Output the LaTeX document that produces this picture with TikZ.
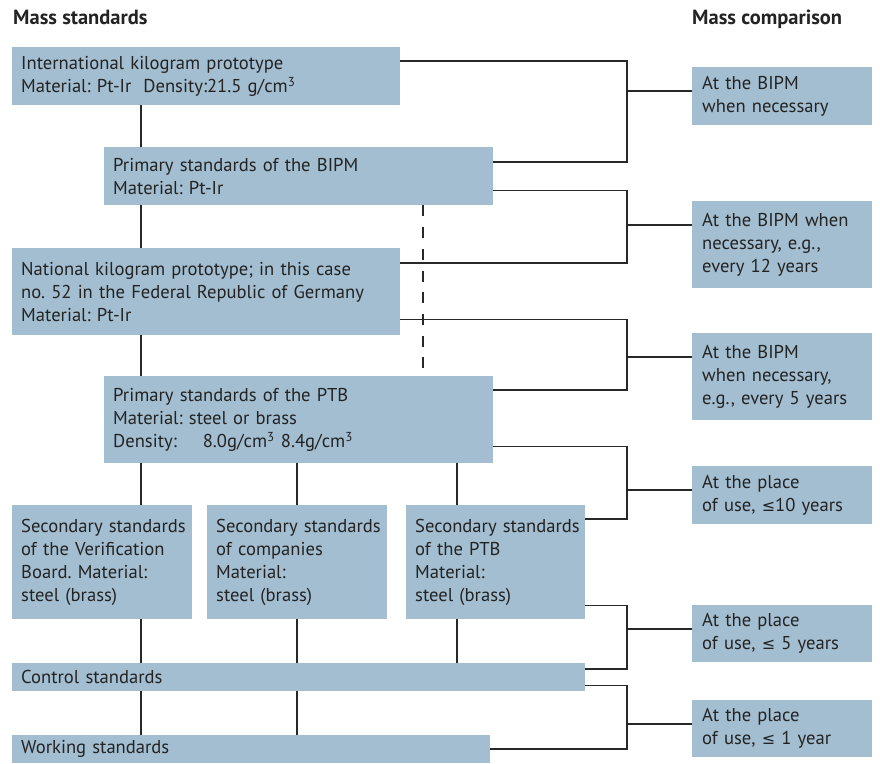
\documentclass[tikz,border=0pt]{standalone}
\usepackage{fontspec}
\setmainfont{PT Sans}
\newfontfamily\symfont{DejaVu Sans}
\usetikzlibrary{calc}
\definecolor{boxblue}{RGB}{163,190,208}
\definecolor{linegray}{RGB}{40,40,40}
\definecolor{textgray}{RGB}{35,35,35}
\newcommand{\boxfont}{\fontsize{18.6}{23}\selectfont\frenchspacing}
\newcommand{\lesseq}{{\symfont\fontsize{16}{23}\selectfont ≤}}
\tikzset{
  stdbox/.style 2 args={rectangle, fill=boxblue, anchor=north west, inner sep=0pt,
              text width=#1pt, minimum width=#1pt, minimum height=#2pt, align=left,
              font=\boxfont, text=textgray, execute at begin node={\leftskip=9pt}},
  cmpbox/.style 2 args={stdbox={#1}{#2}, execute at begin node={\leftskip=10pt}},
  heading/.style={anchor=base west, inner sep=0pt, font=\fontsize{20.5}{24}\selectfont\bfseries, text=textgray},
  link/.style={draw=linegray, line width=1.5pt},
  dashlink/.style={link, dash pattern=on 11pt off 10.7pt},
}

\begin{document}
\begin{tikzpicture}[x=1pt, y=-1pt]
    \useasboundingbox (0,0) rectangle (880,763);

    \node[heading] (lhead) at (13,24) {Mass standards};
    \node[heading] (rhead) at (692,24) {Mass comparison};

    \node[stdbox={388}{58}] (intl) at (12,47)
        {International kilogram prototype\\ Material: Pt-Ir\hspace{12pt}Density:21.5 g/cm\textsuperscript{3}};
    \node[stdbox={389}{58}] (bipm) at (104,147) {Primary standards of the BIPM\\ Material: Pt-Ir};
    \node[stdbox={388}{87}] (natl) at (12,248)
        {National kilogram prototype; in this case\\ no. 52 in the Federal Republic of Germany\\ Material: Pt-Ir};
    \node[stdbox={389}{87}] (ptb) at (104,376)
        {Primary standards of the PTB\\ Material: steel or brass\\
         Density:\hspace{26pt}8.0g/cm\textsuperscript{3} 8.4g/cm\textsuperscript{3}};
    \node[stdbox={180}{114}] (secvb) at (12,505)
        {Secondary standards\\ of the Verification\\ Board. Material:\\ steel (brass)};
    \node[stdbox={180}{114}] (seccomp) at (207,505)
        {Secondary standards\\ of companies\\ Material:\\ steel (brass)};
    \node[stdbox={179}{114}] (secptb) at (406,505)
        {Secondary standards\\ of the PTB\\ Material:\\ steel (brass)};
    \node[stdbox={573}{28}] (ctrl) at (12,663) {Control standards};
    \node[stdbox={478}{28}] (work) at (12,735) {Working standards};

    \node[cmpbox={180}{58}] (cmp1) at (692,67) {At the BIPM\\ when necessary};
    \node[cmpbox={180}{87}] (cmp2) at (692,201) {At the BIPM when\\ necessary, e.g.,\\ every 12 years};
    \node[cmpbox={180}{87}] (cmp3) at (692,333) {At the BIPM\\ when necessary,\\ e.g., every 5 years};
    \node[cmpbox={180}{58}] (cmp4) at (692,466) {At the place\\ of use, \lesseq10 years};
    \node[cmpbox={180}{57}] (cmp5) at (692,605) {At the place\\ of use, \lesseq\ 5 years};
    \node[cmpbox={180}{57}] (cmp6) at (692,700) {At the place\\ of use, \lesseq\ 1 year};

    \coordinate (c1) at (141,0);
    \coordinate (c2) at (297,0);
    \coordinate (c3) at (457,0);
    \coordinate (c4) at (423,0);
    \foreach \a/\b in {intl/bipm, bipm/natl, natl/ptb, ptb/secvb, secvb/ctrl, ctrl/work}
        \draw[link] (\a.south -| c1) -- (\b.north -| c1);
    \foreach \a/\b in {ptb/seccomp, seccomp/ctrl, ctrl/work}
        \draw[link] (\a.south -| c2) -- (\b.north -| c2);
    \foreach \a/\b in {ptb/secptb, secptb/ctrl}
        \draw[link] (\a.south -| c3) -- (\b.north -| c3);
    \draw[dashlink] (bipm.south -| c4) -- (ptb.north -| c4);

    \foreach \k in {1,...,6}
        \coordinate (j\k) at ($(cmp\k.north west)+(-65,24)$);
    \draw[link] ($(intl.north east)+(0,14)$) -| (j1) |- ($(bipm.north east)+(0,15)$);
    \draw[link] ($(bipm.south east)+(0,-15)$) -| (j2) |- ($(natl.north east)+(0,15)$);
    \draw[link] ($(natl.south east)+(0,-16)$) -| (j3) |- ($(ptb.north east)+(0,14)$);
    \draw[link] ($(ptb.south east)+(0,-17)$) -| (j4) |- ($(secptb.north east)+(0,14)$);
    \draw[link] ($(secptb.south east)+(0,-14)$) -| (j5) |- ($(ctrl.north east)+(0,6)$);
    \draw[link] ($(ctrl.south east)+(0,-6)$) -| (j6) |- ($(work.north east)+(0,14)$);
    \foreach \k in {1,...,6}
        \draw[link] (j\k) -- (j\k -| cmp\k.west);
\end{tikzpicture}
\end{document}
